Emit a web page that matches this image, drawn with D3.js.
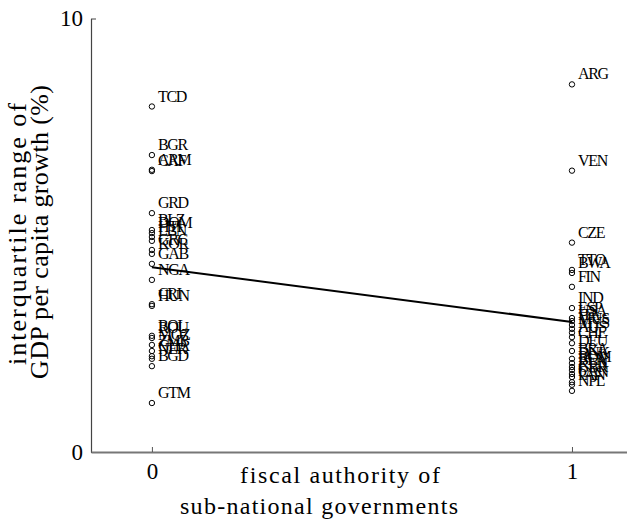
<!DOCTYPE html>
<html>
<head>
<meta charset="utf-8">
<script src="https://cdn.jsdelivr.net/npm/d3@7/dist/d3.min.js"></script>
<style>
  html, body { margin: 0; padding: 0; background: #fff; }
  svg { display: block; }
  text { font-family: "Liberation Serif", "Times New Roman", serif; }
</style>
</head>
<body>
<svg id="chart" width="627" height="522"></svg>
<script>
// ---- data ----
// group 0: no fiscal authority of sub-national governments
const codes0 = ["TCD","BGR","ARM","CAF","GRD","BLZ","DOM","HTI","LBN","GRC","KOR","GAB","NGA","CRI","HUN","BOL","ROU","MOZ","ZMB","GHA","NER","BGD","GTM"];
const values0 = [7.97,6.85,6.51,6.48,5.51,5.12,5.05,4.96,4.87,4.66,4.57,4.34,3.97,3.41,3.37,2.68,2.63,2.47,2.33,2.21,2.15,1.98,1.13];
// group 1: fiscal authority
const codes1 = ["ARG","VEN","CZE","TTO","BWA","FIN","IND","ESP","USA","ITA","MUS","MYS","AUS","CHE","DEU","BRA","DNK","ROM","BEN","KEN","GBR","CAN","PAN","NPL"];
const values1 = [8.48,6.49,4.83,4.20,4.13,3.81,3.32,3.09,3.02,2.93,2.84,2.75,2.65,2.51,2.33,2.15,2.05,1.96,1.89,1.80,1.73,1.61,1.55,1.41];
// fitted regression line values at x = 0 and x = 1
const fitX = [0, 1];
const fitY = [4.26, 3.00];
const xTicks = [0, 1];
const yTicks = [0, 10];
const xTitle = ["fiscal authority of", "sub-national governments"];
const yTitle = ["interquartile range of", "GDP per capita growth (%)"];

// ---- layout ----
const svg = d3.select("#chart");
const x = d3.scaleLinear().domain([-0.145, 1.131]).range([91, 627]);
const y = d3.scaleLinear().domain([0, 10]).range([452, 18.5]);

const points = [];
codes0.forEach((c, i) => points.push({code: c, g: 0, v: values0[i]}));
codes1.forEach((c, i) => points.push({code: c, g: 1, v: values1[i]}));

// axes
const yAxis = svg.append("g").attr("transform", "translate(91,0)")
  .call(d3.axisLeft(y).tickValues(yTicks).tickFormat(d3.format("d")).tickSizeInner(-5).tickSizeOuter(0).tickPadding(8));
yAxis.select(".domain").attr("stroke", "#444").attr("stroke-width", 1.2);
yAxis.selectAll(".tick line").attr("stroke", "#444");
yAxis.selectAll(".tick text").attr("font-size", 23).attr("fill", "#000")
  .attr("font-family", "Liberation Serif");

const xAxis = svg.append("g").attr("transform", "translate(0,452)")
  .call(d3.axisBottom(x).tickValues(xTicks).tickFormat(d3.format("d")).tickSizeInner(-5).tickSizeOuter(0).tickPadding(11));
xAxis.select(".domain").attr("stroke", "#777").attr("stroke-width", 2);
xAxis.selectAll(".tick line").attr("stroke", "#555");
xAxis.selectAll(".tick text").attr("font-size", 23).attr("fill", "#000")
  .attr("font-family", "Liberation Serif");

// axis titles
svg.append("text").attr("x", 340).attr("y", 483).attr("text-anchor", "middle")
  .attr("font-size", 24).attr("textLength", 200).attr("lengthAdjust", "spacing").text(xTitle[0]);
svg.append("text").attr("x", 319).attr("y", 514).attr("text-anchor", "middle")
  .attr("font-size", 24).attr("textLength", 278).attr("lengthAdjust", "spacing").text(xTitle[1]);

svg.append("text").attr("transform", "translate(26,234) rotate(-90)").attr("text-anchor", "middle")
  .attr("font-size", 26).attr("textLength", 262).attr("lengthAdjust", "spacing").text(yTitle[0]);
svg.append("text").attr("transform", "translate(48,232) rotate(-90)").attr("text-anchor", "middle")
  .attr("font-size", 26).attr("textLength", 294).attr("lengthAdjust", "spacing").text(yTitle[1]);

// regression line
svg.append("line")
  .attr("x1", x(fitX[0])).attr("y1", y(fitY[0]))
  .attr("x2", x(fitX[1])).attr("y2", y(fitY[1]))
  .attr("stroke", "#000").attr("stroke-width", 2);

// markers
svg.append("g").selectAll("circle").data(points).join("circle")
  .attr("cx", d => x(d.g)).attr("cy", d => y(d.v)).attr("r", 2.7)
  .attr("fill", "none").attr("stroke", "#000").attr("stroke-width", 1);

// marker labels
svg.append("g").selectAll("text").data(points).join("text")
  .attr("x", d => x(d.g) + 6).attr("y", d => y(d.v) - 5)
  .attr("font-size", 16).attr("letter-spacing", "-1.3px").attr("fill", "#000")
  .text(d => d.code);
</script>
</body>
</html>
